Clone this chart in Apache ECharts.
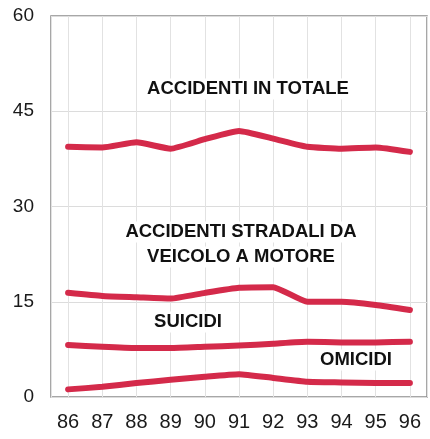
<!DOCTYPE html>
<html>
<head>
<meta charset="utf-8">
<script src="https://cdn.jsdelivr.net/npm/echarts@6/dist/echarts.min.js"></script>
<style>
  html, body { margin: 0; padding: 0; background: #fff; }
  #chart { width: 430px; height: 439px; }
</style>
</head>
<body>
<div id="chart"></div>
<script>
  var years = [86, 87, 88, 89, 90, 91, 92, 93, 94, 95, 96];
  var totale = [39.4, 39.3, 40.1, 39.1, 40.6, 41.9, 40.7, 39.4, 39.1, 39.3, 38.6];
  var stradali = [16.4, 15.9, 15.7, 15.5, 16.4, 17.2, 17.3, 15.0, 15.0, 14.5, 13.7];
  var suicidi = [8.2, 7.9, 7.7, 7.7, 7.9, 8.1, 8.4, 8.7, 8.6, 8.6, 8.7];
  var omicidi = [1.2, 1.6, 2.2, 2.7, 3.2, 3.6, 3.0, 2.4, 2.3, 2.2, 2.2];
  var yTicks = [0, 15, 30, 45, 60];

  var red = '#d42a4a';
  var labelFont = '"Liberation Sans", Arial, sans-serif';

  function pairs(vals) {
    return years.map(function (y, i) { return [y, vals[i]]; });
  }
  function lineSeries(name, vals) {
    return {
      name: name,
      type: 'line',
      data: pairs(vals),
      symbol: 'none',
      smooth: 0.15,
      lineStyle: { color: red, width: 6, cap: 'round', join: 'round' }
    };
  }
  // etichette di testo dentro il grafico, con fondo bianco sopra la griglia
  function txt(text, x, y) {
    return {
      type: 'text',
      x: x, y: y,
      z: 100,
      style: {
        text: text,
        font: 'bold 18.5px ' + labelFont,
        fill: '#111',
        align: 'center',
        verticalAlign: 'middle',
        backgroundColor: '#fff',
        padding: [1, 3]
      }
    };
  }

  var chart = echarts.init(document.getElementById('chart'));
  chart.setOption({
    animation: false,
    grid: {
      left: 51, right: 3, top: 16, bottom: 42,
      show: true, borderColor: '#8a8a8a', borderWidth: 1.5
    },
    xAxis: {
      type: 'value',
      min: 85.5, max: 96.5,
      splitNumber: 11,
      axisLine: { show: false },
      axisTick: { show: false },
      splitLine: { lineStyle: { color: '#e2e2e2', width: 1 } },
      axisLabel: {
        margin: 15,
        fontSize: 20,
        color: '#1a1a1a',
        fontFamily: labelFont,
        formatter: function (v) { return years.indexOf(v) >= 0 ? String(v) : ''; }
      }
    },
    yAxis: {
      type: 'value',
      min: yTicks[0], max: yTicks[yTicks.length - 1], interval: 15,
      axisLine: { show: false },
      axisTick: { show: false },
      splitLine: { lineStyle: { color: '#dcdcdc', width: 1 } },
      axisLabel: {
        margin: 17,
        fontSize: 19,
        color: '#1a1a1a',
        fontFamily: labelFont
      }
    },
    series: [
      lineSeries('Accidenti in totale', totale),
      lineSeries('Accidenti stradali da veicolo a motore', stradali),
      lineSeries('Suicidi', suicidi),
      lineSeries('Omicidi', omicidi)
    ],
    graphic: [
      txt('ACCIDENTI IN TOTALE', 248, 89),
      txt('ACCIDENTI STRADALI DA', 241, 232),
      txt('VEICOLO A MOTORE', 241, 257),
      txt('SUICIDI', 188, 322),
      txt('OMICIDI', 356, 360)
    ]
  });
</script>
</body>
</html>
